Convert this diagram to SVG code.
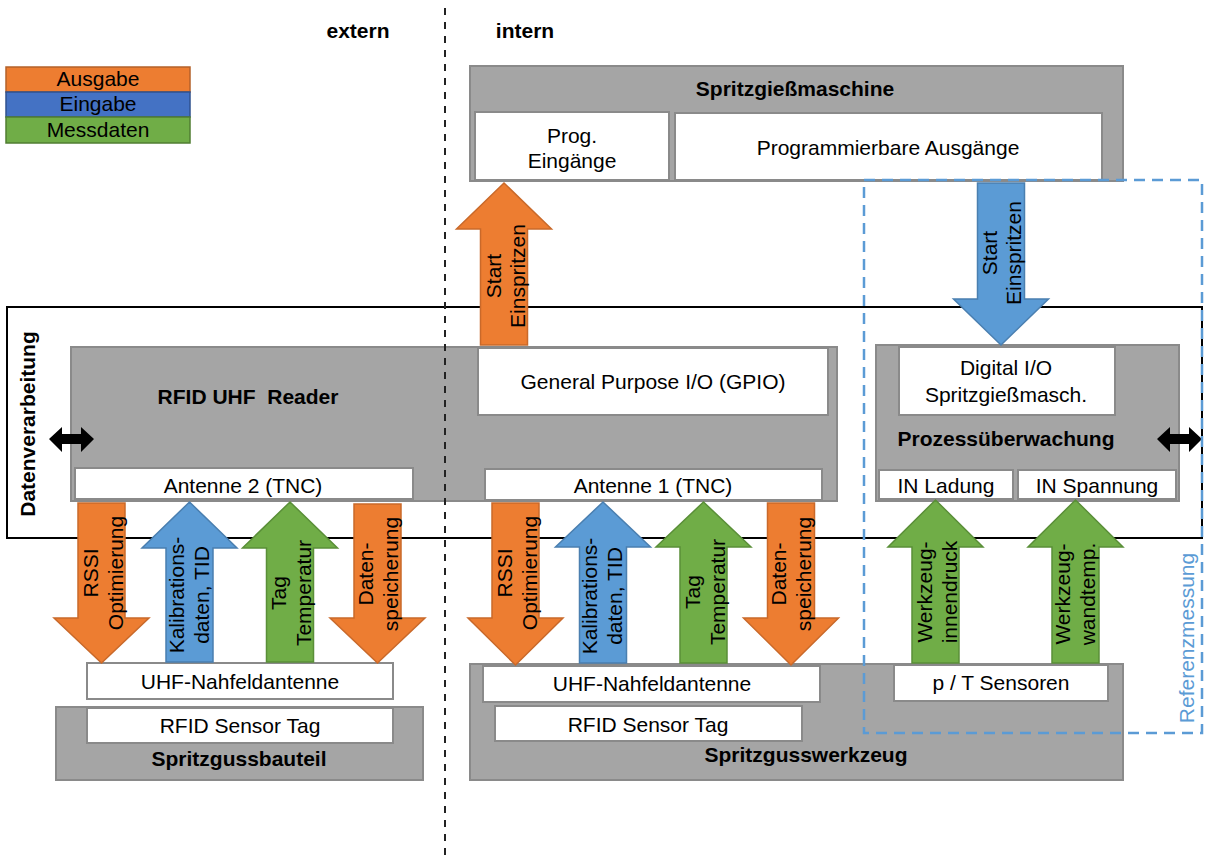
<svg xmlns="http://www.w3.org/2000/svg" width="1210" height="862" viewBox="0 0 1210 862">
<style>
text{font-family:"Liberation Sans",Arial,sans-serif;font-size:21px;fill:#000;text-anchor:middle}
.b{font-weight:bold}
.gray{fill:#A5A5A5;stroke:#8A8A8A;stroke-width:2}
.white{fill:#fff;stroke:#8A8A8A;stroke-width:2}
.out{fill:#ED7D31;stroke:#C9692A;stroke-width:1.5}
.in{fill:#5B9BD5;stroke:#4A7FB0;stroke-width:1.5}
.mess{fill:#70AD47;stroke:#5A8F38;stroke-width:1.5}
.dbl{fill:#000}
</style>
<rect width="1210" height="862" fill="#fff"/>

<g id="legend">
<rect x="6" y="67" width="184" height="25" fill="#ED7D31" stroke="#B4612A" stroke-width="1.5"/>
<rect x="6" y="92" width="184" height="25" fill="#4472C4" stroke="#2F528F" stroke-width="1.5"/>
<rect x="6" y="117" width="184" height="26" fill="#70AD47" stroke="#507E32" stroke-width="1.5"/>
<text x="98" y="86">Ausgabe</text>
<text x="98" y="111">Eingabe</text>
<text x="98" y="137">Messdaten</text>
</g>

<g id="labels-extern-intern">
<text class="b" x="358" y="38">extern</text>
<text class="b" x="525" y="38">intern</text>
</g>

<g id="datenverarbeitung">
<rect x="7" y="307" width="1195" height="231" fill="none" stroke="#000" stroke-width="2"/>
<text class="b" transform="translate(35,424) rotate(-90)">Datenverarbeitung</text>
</g>

<g id="spritzgiessmaschine">
<rect class="gray" x="470" y="66" width="653" height="115"/>
<text class="b" x="795" y="96">Spritzgießmaschine</text>
<rect class="white" x="475" y="112" width="194" height="68"/>
<text x="572" y="143">Prog.</text>
<text x="572" y="168">Eingänge</text>
<rect class="white" x="675" y="113" width="427" height="67"/>
<text x="888" y="155">Programmierbare Ausgänge</text>
</g>

<g id="rfid-reader">
<rect class="gray" x="71" y="347" width="766" height="154"/>
<text class="b" x="248" y="404" xml:space="preserve">RFID UHF  Reader</text>
<rect class="white" x="75" y="468" width="338" height="31"/>
<text x="243" y="493">Antenne 2 (TNC)</text>
<rect class="white" x="478" y="348" width="350" height="67"/>
<text x="653" y="389">General Purpose I/O (GPIO)</text>
<rect class="white" x="485" y="469" width="337" height="31"/>
<text x="653" y="493">Antenne 1 (TNC)</text>
</g>

<g id="prozessueberwachung">
<rect class="gray" x="876" y="345" width="303" height="156"/>
<rect class="white" x="899" y="347" width="216" height="68"/>
<text x="1006" y="375">Digital I/O</text>
<text x="1006" y="402">Spritzgießmasch.</text>
<text class="b" x="1006" y="446">Prozessüberwachung</text>
<rect class="white" x="879" y="470" width="134" height="29"/>
<text x="946" y="493">IN Ladung</text>
<rect class="white" x="1018" y="470" width="158" height="29"/>
<text x="1097" y="493">IN Spannung</text>
</g>

<g id="spritzgussbauteil">
<rect class="white" x="87" y="663" width="306" height="36"/>
<text x="240" y="689">UHF-Nahfeldantenne</text>
<rect class="gray" x="56" y="707" width="367" height="73"/>
<rect class="white" x="87" y="708" width="306" height="35"/>
<text x="240" y="733">RFID Sensor Tag</text>
<text class="b" x="239" y="766">Spritzgussbauteil</text>
</g>

<g id="spritzgusswerkzeug">
<rect class="gray" x="470" y="664" width="653" height="116"/>
<rect class="white" x="483" y="666" width="337" height="36"/>
<text x="652" y="691">UHF-Nahfeldantenne</text>
<rect class="white" x="495" y="706" width="307" height="35"/>
<text x="648" y="732">RFID Sensor Tag</text>
<rect class="white" x="894" y="665" width="214" height="36"/>
<text x="1001" y="690">p / T Sensoren</text>
<text class="b" x="806" y="762">Spritzgusswerkzeug</text>
</g>

<g id="divider">
<line x1="445" y1="8" x2="445" y2="862" stroke="#222" stroke-width="2" stroke-dasharray="7,7"/>
</g>

<g id="connectors">
<polygon class="out" points="504,183 551.5,229 527.5,229 527.5,345 480.5,345 480.5,229 456.5,229"/>
<polygon class="in" points="977.5,183 1024.5,183 1024.5,299 1048.5,299 1001,345 953.5,299 977.5,299"/>

<polygon class="out" points="78,503 125,503 125,618 149,618 101.5,663 54,618 78,618"/>
<polygon class="in" points="189.5,502 237,548 213,548 213,662 166,662 166,548 142,548"/>
<polygon class="mess" points="290,502 337.5,548 313.5,548 313.5,662 266.5,662 266.5,548 242.5,548"/>
<polygon class="out" points="354,504 401,504 401,618 425,618 377.5,663 330,618 354,618"/>

<polygon class="out" points="492,503 539,503 539,618 563,618 515.5,665 468,618 492,618"/>
<polygon class="in" points="603,502 650.5,547 626.5,547 626.5,663 579.5,663 579.5,547 555.5,547"/>
<polygon class="mess" points="703.5,502 751,547 727,547 727,663 680,663 680,547 656,547"/>
<polygon class="out" points="767.5,503 814.5,503 814.5,618 838.5,618 791,665 743.5,618 767.5,618"/>

<polygon class="mess" points="935.5,500 983,547 959,547 959,663 912,663 912,547 888,547"/>
<polygon class="mess" points="1075.5,500 1123,547 1099,547 1099,663 1052,663 1052,547 1028,547"/>

<polygon class="dbl" points="49,439 62,427 62,434 81,434 81,427 94,439 81,452 81,444 62,444 62,452"/>
<polygon class="dbl" points="1157,439 1170,427 1170,434 1189,434 1189,427 1202,439 1189,452 1189,444 1170,444 1170,452"/>

<text transform="translate(501,276) rotate(-90)">Start</text>
<text transform="translate(525,276) rotate(-90)">Einspritzen</text>
<text transform="translate(997,253) rotate(-90)">Start</text>
<text transform="translate(1021,253) rotate(-90)">Einspritzen</text>

<text transform="translate(98,573) rotate(-90)">RSSI</text>
<text transform="translate(123,573) rotate(-90)">Optimierung</text>
<text transform="translate(184,595) rotate(-90)">Kalibrations-</text>
<text transform="translate(209,595) rotate(-90)">daten, TID</text>
<text transform="translate(286,593) rotate(-90)">Tag</text>
<text transform="translate(311,593) rotate(-90)">Temperatur</text>
<text transform="translate(373,574) rotate(-90)">Daten-</text>
<text transform="translate(398,574) rotate(-90)">speicherung</text>

<text transform="translate(512,573) rotate(-90)">RSSI</text>
<text transform="translate(537,573) rotate(-90)">Optimierung</text>
<text transform="translate(597,596) rotate(-90)">Kalibrations-</text>
<text transform="translate(622,596) rotate(-90)">daten, TID</text>
<text transform="translate(700,592) rotate(-90)">Tag</text>
<text transform="translate(725,592) rotate(-90)">Temperatur</text>
<text transform="translate(786,574) rotate(-90)">Daten-</text>
<text transform="translate(811,574) rotate(-90)">speicherung</text>

<text transform="translate(932,592) rotate(-90)">Werkzeug-</text>
<text transform="translate(957,592) rotate(-90)">innendruck</text>
<text transform="translate(1070,594) rotate(-90)">Werkzeug-</text>
<text transform="translate(1095,594) rotate(-90)">wandtemp.</text>
</g>

<g id="referenzmessung">
<rect x="864" y="180" width="338" height="553" fill="none" stroke="#5B9BD5" stroke-width="2.5" stroke-dasharray="11,7"/>
<text transform="translate(1194,638) rotate(-90)" style="fill:#5B9BD5">Referenzmessung</text>
</g>
</svg>
